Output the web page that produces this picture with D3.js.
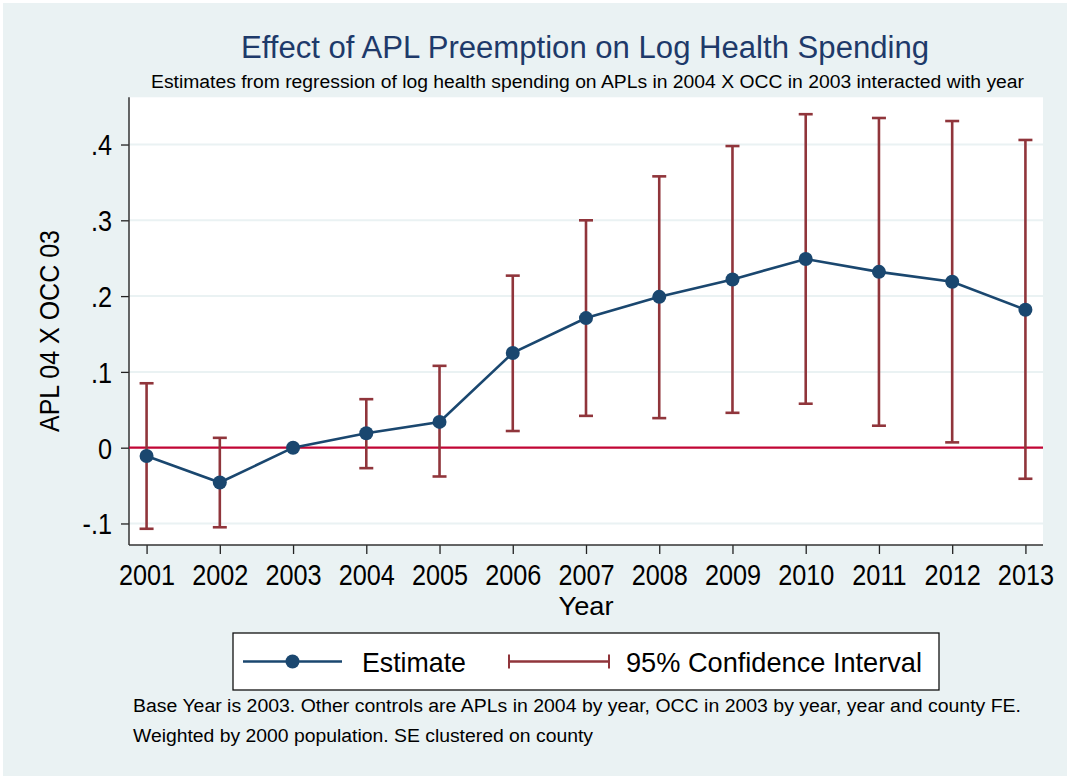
<!DOCTYPE html>
<html><head><meta charset="utf-8">
<script src="https://cdn.jsdelivr.net/npm/d3@7"></script>
<style>
html,body{margin:0;padding:0;background:#fff;}
svg{display:block;font-family:Arial,"Liberation Sans",sans-serif;}
</style></head>
<body>
<svg id="c" width="1070" height="779"></svg>
<script>
const years = [2001,2002,2003,2004,2005,2006,2007,2008,2009,2010,2011,2012,2013];
const estimate = [-0.011,-0.046,0,0.019,0.034,0.125,0.171,0.199,0.222,0.249,0.232,0.219,0.182];
const ciYears = [2001,2002,2004,2005,2006,2007,2008,2009,2010,2011,2012,2013];
const ciLow  = [-0.107,-0.105,-0.027,-0.038,0.022,0.042,0.039,0.046,0.058,0.029,0.007,-0.041];
const ciHigh = [0.085,0.013,0.064,0.108,0.227,0.300,0.358,0.398,0.440,0.435,0.431,0.406];
const yTicks = [-0.1,0,0.1,0.2,0.3,0.4];
const yTickLabels = ["-.1","0",".1",".2",".3",".4"];
const titleText = "Effect of APL Preemption on Log Health Spending";
const subtitleText = "Estimates from regression of log health spending on APLs in 2004 X OCC in 2003 interacted with year";
const yTitle = "APL 04 X OCC 03";
const xTitle = "Year";
const legendLabels = ["Estimate","95% Confidence Interval"];
const notes = ["Base Year is 2003. Other controls are APLs in 2004 by year, OCC in 2003 by year, year and county FE.",
               "Weighted by 2000 population. SE clustered on county"];

const W=1070,H=779;
const svg=d3.select("#c");
const bg="#EAF2F3", navy="#1A476F", maroon="#90353B", zeroCol="#C10534";
const SQ=0.87; // horizontal squeeze of the condensed-looking font
function squeeze(sel,f){ sel.each(function(){ const w=this.getComputedTextLength(); d3.select(this).attr("textLength",w*(f||SQ)).attr("lengthAdjust","spacingAndGlyphs"); }); }

svg.append("rect").attr("x",0).attr("y",0).attr("width",W).attr("height",H).attr("fill","#fff");
svg.append("rect").attr("x",3).attr("y",3).attr("width",W-6).attr("height",H-6).attr("fill",bg);

const L=129,R=1043,T=97.3,B=545;
const x=d3.scaleLinear().domain([2000.76,2013.24]).range([L,R]);
const y=d3.scaleLinear().domain([-0.1284,0.4623]).range([B,T]);

svg.append("rect").attr("x",L).attr("y",T).attr("width",R-L).attr("height",B-T).attr("fill","#fff");

// grid
svg.append("g").selectAll("line").data(yTicks.filter(d=>d!==0)).join("line")
  .attr("x1",L).attr("x2",R).attr("y1",d=>y(d)).attr("y2",d=>y(d))
  .attr("stroke",bg).attr("stroke-width",2);

// axes
const yAxis=d3.axisLeft(y).tickValues(yTicks).tickFormat((d,i)=>yTickLabels[i]).tickSize(8).tickPadding(9);
const gy=svg.append("g").attr("transform",`translate(${L},0)`).call(yAxis);
const xAxis=d3.axisBottom(x).tickValues(years).tickFormat(d3.format("d")).tickSize(9).tickPadding(11);
const gx=svg.append("g").attr("transform",`translate(0,${B})`).call(xAxis);
[gx,gy].forEach(g=>{
  g.select(".domain").remove();
  g.selectAll(".tick line").attr("stroke","#222").attr("stroke-width",1.3);
  g.selectAll(".tick text").attr("fill","#000").style("font-size","29px").style("font-family","Arial,'Liberation Sans',sans-serif");
});
gy.selectAll(".tick text").attr("dy","0.36em");
gx.selectAll(".tick text").attr("dy","0.69em");
squeeze(gx.selectAll(".tick text"));
squeeze(gy.selectAll(".tick text"));
svg.append("line").attr("x1",L).attr("x2",L).attr("y1",T).attr("y2",B).attr("stroke","#333").attr("stroke-width",1.5);
svg.append("line").attr("x1",L).attr("x2",R).attr("y1",B).attr("y2",B).attr("stroke","#333").attr("stroke-width",1.5);

// zero line
svg.append("line").attr("x1",L).attr("x2",R).attr("y1",y(0)).attr("y2",y(0)).attr("stroke",zeroCol).attr("stroke-width",2.2);

// CI
const ci=ciYears.map((yr,i)=>({yr,lo:ciLow[i],hi:ciHigh[i]}));
const gci=svg.append("g").attr("stroke",maroon).attr("stroke-width",2.6);
gci.selectAll("line.v").data(ci).join("line").attr("class","v")
  .attr("x1",d=>x(d.yr)).attr("x2",d=>x(d.yr)).attr("y1",d=>y(d.lo)).attr("y2",d=>y(d.hi));
gci.selectAll("line.h").data(ci).join("line").attr("class","h")
  .attr("x1",d=>x(d.yr)-7).attr("x2",d=>x(d.yr)+7).attr("y1",d=>y(d.hi)).attr("y2",d=>y(d.hi));
gci.selectAll("line.l").data(ci).join("line").attr("class","l")
  .attr("x1",d=>x(d.yr)-7).attr("x2",d=>x(d.yr)+7).attr("y1",d=>y(d.lo)).attr("y2",d=>y(d.lo));

// estimate
const est=years.map((yr,i)=>({yr,v:estimate[i]}));
svg.append("path").datum(est).attr("fill","none").attr("stroke",navy).attr("stroke-width",2.6)
  .attr("d",d3.line().x(d=>x(d.yr)).y(d=>y(d.v)));
svg.append("g").selectAll("circle").data(est).join("circle")
  .attr("cx",d=>x(d.yr)).attr("cy",d=>y(d.v)).attr("r",7).attr("fill",navy);

// titles
svg.append("text").attr("x",585).attr("y",58).attr("text-anchor","middle").attr("fill","#1E3A6A")
  .style("font-size","31px").attr("textLength",688).attr("lengthAdjust","spacingAndGlyphs").text(titleText);
svg.append("text").attr("x",587.5).attr("y",88).attr("text-anchor","middle").attr("fill","#000")
  .style("font-size","18px").attr("textLength",873).attr("lengthAdjust","spacingAndGlyphs").text(subtitleText);
svg.append("text").attr("transform",`translate(59,331) rotate(-90)`).attr("text-anchor","middle")
  .attr("fill","#000").style("font-size","28px").attr("textLength",202).attr("lengthAdjust","spacingAndGlyphs").text(yTitle);
svg.append("text").attr("x",586).attr("y",615).attr("text-anchor","middle").attr("fill","#000")
  .style("font-size","26px").attr("textLength",55).attr("lengthAdjust","spacingAndGlyphs").text(xTitle);

// legend
const lg=svg.append("g");
lg.append("rect").attr("x",233).attr("y",633).attr("width",706).attr("height",57).attr("fill","#fff").attr("stroke","#111").attr("stroke-width",1.3);
const ly=661.5;
lg.append("line").attr("x1",243).attr("x2",342).attr("y1",ly).attr("y2",ly).attr("stroke",navy).attr("stroke-width",2.6);
lg.append("circle").attr("cx",292.5).attr("cy",ly).attr("r",7).attr("fill",navy);
lg.append("text").attr("x",362).attr("y",ly).attr("dy","0.36em").style("font-size","28px").attr("fill","#000")
  .attr("textLength",104).attr("lengthAdjust","spacingAndGlyphs").text(legendLabels[0]);
lg.append("line").attr("x1",509).attr("x2",609).attr("y1",ly).attr("y2",ly).attr("stroke",maroon).attr("stroke-width",2.6);
lg.append("line").attr("x1",509).attr("x2",509).attr("y1",ly-7).attr("y2",ly+7).attr("stroke",maroon).attr("stroke-width",2);
lg.append("line").attr("x1",609).attr("x2",609).attr("y1",ly-7).attr("y2",ly+7).attr("stroke",maroon).attr("stroke-width",2);
lg.append("text").attr("x",626).attr("y",ly).attr("dy","0.36em").style("font-size","28px").attr("fill","#000")
  .attr("textLength",296).attr("lengthAdjust","spacingAndGlyphs").text(legendLabels[1]);

// notes
const noteW=[888,460];
svg.selectAll("text.note").data(notes).join("text").attr("class","note")
  .attr("x",133).attr("y",(d,i)=>712+i*30).style("font-size","18px").attr("fill","#000")
  .attr("textLength",(d,i)=>noteW[i]).attr("lengthAdjust","spacingAndGlyphs").text(d=>d);
</script>
</body></html>
